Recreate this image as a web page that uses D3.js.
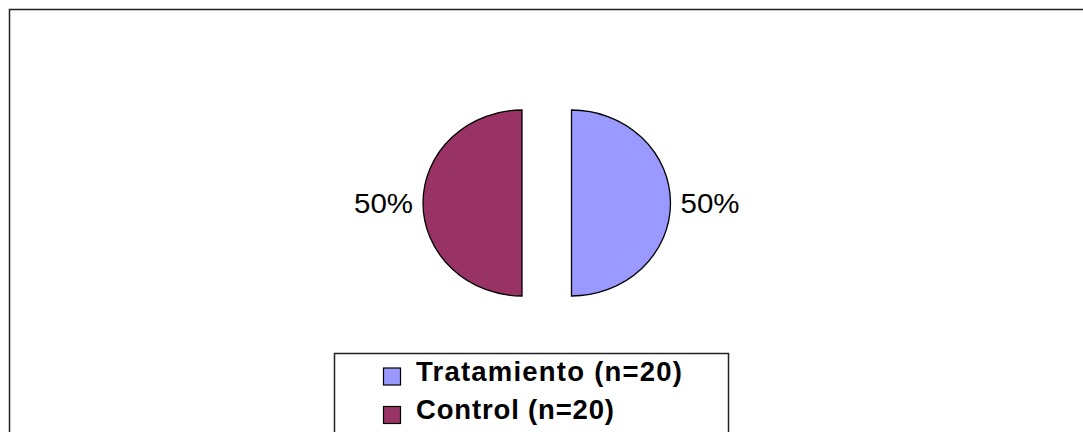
<!DOCTYPE html>
<html>
<head>
<meta charset="utf-8">
<script src="https://cdn.jsdelivr.net/npm/d3@7"></script>
<style>
  body { margin: 0; background: #fff; }
  svg { display: block; font-family: "Liberation Sans", Arial, sans-serif; }
</style>
</head>
<body>
<svg id="chart" width="1083" height="432"></svg>
<script>
// data
const categories = ["Tratamiento (n=20)", "Control (n=20)"];
const counts = [20, 20];
const colors = ["#9999ff", "#993366"];

const svg = d3.select("#chart");

// outer chart frame (runs off the right and bottom of the picture)
svg.append("rect")
    .attr("x", 9.5)
    .attr("y", 9.5)
    .attr("width", 1200)
    .attr("height", 600)
    .attr("fill", "#fff")
    .attr("stroke", "#222")
    .attr("stroke-width", 1.5);

// pie, a bit wider than tall like the source
const cx = 546.75, cy = 203;
const ry = 93, rx = 99;
const explode = 24.75;

const pie = d3.pie().sort(null).value(d => d);
const arcs = pie(counts);
const arc = d3.arc().innerRadius(0).outerRadius(ry);
const total = d3.sum(counts);

const slices = svg.append("g").attr("class", "slices");

arcs.forEach((a, i) => {
    const mid = (a.startAngle + a.endAngle) / 2;
    const sx = cx + explode * Math.sin(mid);
    const sy = cy - explode * Math.cos(mid);

    slices.append("path")
        .attr("d", arc(a))
        .attr("transform", `translate(${sx},${sy}) scale(${rx / ry},1)`)
        .attr("fill", colors[i])
        .attr("stroke", "#000")
        .attr("stroke-width", 1.3)
        .attr("vector-effect", "non-scaling-stroke");

    // percent label just outside the slice
    const right = Math.sin(mid) >= 0;
    svg.append("text")
        .attr("x", sx + Math.sin(mid) * (rx + 10))
        .attr("y", sy - Math.cos(mid) * ry + 10)
        .attr("text-anchor", right ? "start" : "end")
        .attr("font-size", 27)
        .attr("textLength", 59)
        .attr("lengthAdjust", "spacingAndGlyphs")
        .attr("fill", "#000")
        .text(d3.format(".0%")(a.value / total));
});

// legend
const legend = svg.append("g").attr("class", "legend");
legend.append("rect")
    .attr("x", 334.5)
    .attr("y", 353.5)
    .attr("width", 394)
    .attr("height", 200)
    .attr("fill", "#fff")
    .attr("stroke", "#222")
    .attr("stroke-width", 1.5);

const legendLengths = [266, 198];
categories.forEach((c, i) => {
    const row = legend.append("g")
        .attr("transform", `translate(383, ${367.5 + i * 38.5})`);
    row.append("rect")
        .attr("x", 0.5)
        .attr("y", 0.5)
        .attr("width", 17)
        .attr("height", 17)
        .attr("fill", colors[i])
        .attr("stroke", "#000")
        .attr("stroke-width", 1.2);
    row.append("text")
        .attr("x", 33)
        .attr("y", 13)
        .attr("font-size", 27.5)
        .attr("font-weight", "bold")
        .attr("textLength", legendLengths[i])
        .attr("lengthAdjust", "spacing")
        .attr("fill", "#000")
        .text(c);
});
</script>
</body>
</html>
